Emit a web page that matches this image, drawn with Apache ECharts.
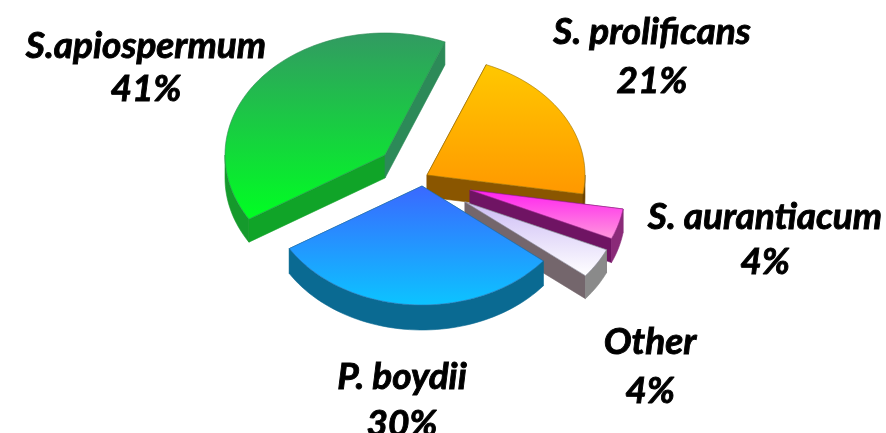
<!DOCTYPE html>
<html><head><meta charset="utf-8">
<style>html,body{margin:0;padding:0;background:#fff}#c{width:886px;height:433px}</style>
<script src="https://cdn.jsdelivr.net/npm/echarts@6/dist/echarts.min.js"></script>
</head><body><div id="c"></div>
<script>
const names = ['S. prolificans', 'S. aurantiacum', 'Other', 'P. boydii', 'S.apiospermum'];
const shares = [21, 4, 4, 30, 41];

const look = {
  'S. prolificans': {apex:[427,175], r:[158,119], d:22, top:['#ffc800','#ff9800'], wall:'#8a5600', rim:'#6e4400', edge:'#9a7000', z:1, label:[652,57], lh:49},
  'S. aurantiacum': {apex:[470,190], r:[155,119], d:24, top:['#ff20f0','#ff98dc'], wall:'#6f1463', rim:'#8a2a78', edge:'#a02a90', z:2, label:[765,240], lh:45},
  'Other':          {apex:[465,202], r:[155,117], d:23, top:['#cdbcf5','#ffffff'], wall:'#74666c', rim:'#8a8a8a', edge:'#8a8a9a', z:3, label:[650,367], lh:49},
  'P. boydii':      {apex:[422,186], r:[156,119], d:25, top:['#3a68ff','#0cc4ff'], wall:'#0b6d96', rim:'#0a6a92', edge:'#2a70b0', z:4, label:[402,401], lh:47},
  'S.apiospermum':  {apex:[385,155], r:[160,122], d:23, top:['#329a62','#00ff22'], wall:'#10a428', rim:'#159a2c', edge:'#2a8a50', wall2:'#2c8a58', z:0, label:[146,68], lh:43}
};
const START = -68;
const total = shares.reduce((a,b)=>a+b,0);
const angleAt = c => START + 360*c + 4.2*Math.pow(Math.sin(Math.PI*c),2);

function renderItem(params, api){
  const i = params.dataIndex, name = names[i], L = look[name];
  let before = 0; for(let k=0;k<i;k++) before += shares[k];
  const a0 = angleAt(before/total), a1 = angleAt((before+api.value(0))/total);
  const pt = t => [L.apex[0]+L.r[0]*Math.cos(t*Math.PI/180), L.apex[1]+L.r[1]*Math.sin(t*Math.PI/180)];
  const arc = [];
  const n = Math.max(4, Math.ceil((a1-a0)/2));
  for(let k=0;k<=n;k++) arc.push(pt(a0+(a1-a0)*k/n));
  const down = p => [p[0],p[1]+L.d];
  const poly = (points, fill, stroke, extra) => ({type:'polygon', shape:{points}, z2:L.z*10+(extra||0),
    style:{fill, stroke:stroke||fill, lineWidth:0.6}, silent:true});
  const kids = [];
  const p0 = arc[0], p1 = arc[arc.length-1];
  kids.push(poly([L.apex,p0,down(p0),down(L.apex)], L.wall));
  kids.push(poly([L.apex,p1,down(p1),down(L.apex)], L.wall2||L.wall));
  // rim: only the part of the arc that faces the viewer
  const lo = Math.max(a0,0), hi = Math.min(a1,180);
  if(hi>lo){
    const rimTop=[]; const m=Math.max(3,Math.ceil((hi-lo)/2));
    for(let k=0;k<=m;k++) rimTop.push(pt(lo+(hi-lo)*k/m));
    kids.push(poly(rimTop.concat(rimTop.slice().reverse().map(down)), L.rim, L.rim, 1));
  }
  kids.push(poly([L.apex].concat(arc),
    new echarts.graphic.LinearGradient(0,0,0,1,[{offset:0,color:L.top[0]},{offset:1,color:L.top[1]}]),L.edge,2));
  kids.push({type:'text', z2:100, silent:true, style:{
    x:L.label[0], y:L.label[1], text:name+'\n'+api.value(0)+'%', align:'center', verticalAlign:'middle',
    fontFamily:'Lato', fontWeight:'bold', fontStyle:'italic', fontSize:37, lineHeight:L.lh, fill:'#000',
    stroke:'#000', lineWidth:0.9}});
  return {type:'group', children:kids};
}

const chart = echarts.init(document.getElementById('c'), null, {renderer:'canvas'});
chart.setOption({
  animation:false,
  backgroundColor:'#fff',
  series:[{type:'custom', coordinateSystem:'none', renderItem,
    data:shares.map((v,i)=>({name:names[i], value:[v]}))}]
});
</script></body></html>
